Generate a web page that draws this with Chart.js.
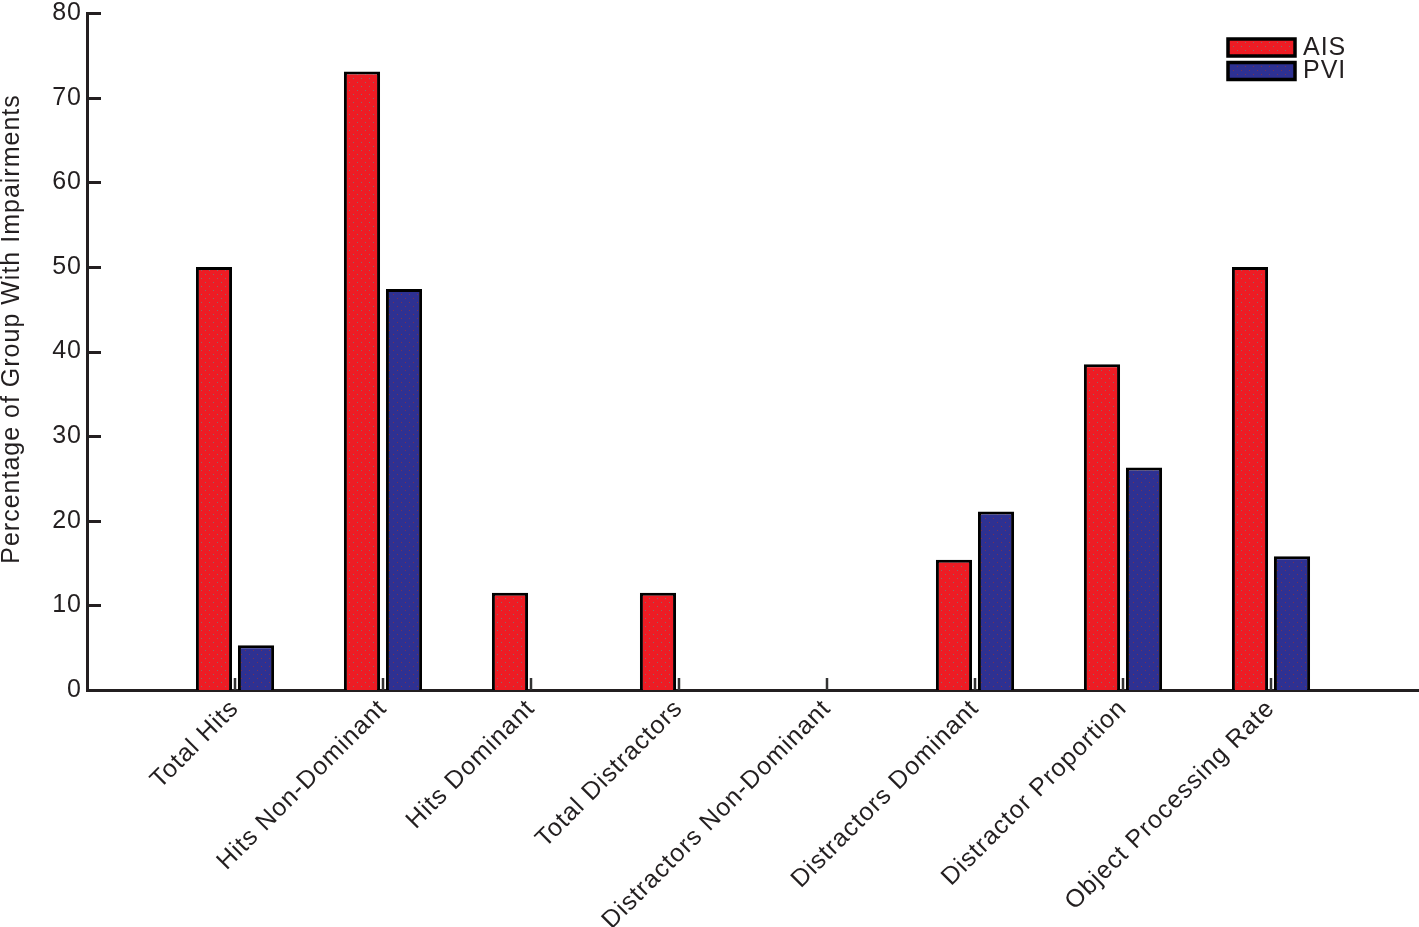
<!DOCTYPE html>
<html>
<head>
<meta charset="utf-8">
<script src="https://cdn.jsdelivr.net/npm/chart.js@4.4.1/dist/chart.umd.min.js"></script>
<style>
  html, body { margin: 0; padding: 0; background: #fff; }
  canvas { display: block; }
</style>
</head>
<body>
<canvas id="impairChart" width="1419" height="927"></canvas>
<script>
const categories = ["Total Hits", "Hits Non-Dominant", "Hits Dominant", "Total Distractors",
                    "Distractors Non-Dominant", "Distractors Dominant", "Distractor Proportion",
                    "Object Processing Rate"];
const seriesNames = ["AIS", "PVI"];
const aisValues = [50, 73.1, 11.5, 11.5, 0, 15.4, 38.5, 50];
const pviValues = [5.3, 47.4, 0, 0, 0, 21.1, 26.3, 15.8];
const yTicks = [0, 10, 20, 30, 40, 50, 60, 70, 80];
const yTitle = "Percentage of Group With Impairments";

const fontFamily = '"Liberation Sans", Arial, Helvetica, sans-serif';
const fontSize = 25;
const spacing = "1px";
const inkColor = "#231f20";
const redFill = "#ed1c24";
const blueFill = "#2e3192";

// speckled fill like the original print
function makePattern(base, dot) {
    const c = document.createElement("canvas");
    c.width = 8;
    c.height = 8;
    const g = c.getContext("2d");
    g.fillStyle = base;
    g.fillRect(0, 0, 8, 8);
    g.fillStyle = dot;
    g.fillRect(1, 6, 1, 1);
    g.fillRect(5, 2, 1, 1);
    return g.createPattern(c, "repeat");
}

const ctx = document.getElementById("impairChart").getContext("2d");
const redPattern = makePattern(redFill, "#8a6a6a");
const bluePattern = makePattern(blueFill, "#7a3050");

// pad both ends so the axis runs one slot past the first and last group
const labels = ["", ...categories, ""];
const padded = arr => [null, ...arr, null];

const spacingPlugin = {
    id: "letterSpacing",
    beforeUpdate(chart) { chart.ctx.letterSpacing = spacing; },
    beforeDraw(chart) { chart.ctx.letterSpacing = spacing; }
};

const decorPlugin = {
    id: "decor",
    afterDraw(chart) {
        const { ctx, scales: { x, y }, chartArea } = chart;
        ctx.save();

        // inward ticks on the y axis
        ctx.strokeStyle = inkColor;
        ctx.lineWidth = 3;
        yTicks.forEach(v => {
            const py = Math.round(y.getPixelForValue(v)) + 0.5;
            ctx.beginPath();
            ctx.moveTo(chartArea.left, py);
            ctx.lineTo(chartArea.left + 14, py);
            ctx.stroke();
        });

        // inward ticks on the x axis, one per group
        ctx.lineWidth = 2.5;
        ctx.strokeStyle = "#333";
        categories.forEach((c, i) => {
            const px = Math.round(x.getPixelForValue(i + 1));
            ctx.beginPath();
            ctx.moveTo(px, chartArea.bottom);
            ctx.lineTo(px, chartArea.bottom - 12);
            ctx.stroke();
        });

        // y axis title
        ctx.fillStyle = inkColor;
        ctx.font = fontSize + "px " + fontFamily;
        ctx.letterSpacing = spacing;
        ctx.textAlign = "center";
        ctx.textBaseline = "middle";
        ctx.translate(12, 329);
        ctx.rotate(-Math.PI / 2);
        ctx.fillText(yTitle, 0, 0);
        ctx.restore();

        // legend, top right
        ctx.save();
        const boxLeft = chartArea.right - 191;
        const fills = [redPattern, bluePattern];
        chart.data.datasets.forEach((ds, i) => {
            const top = 39 + i * 23.5;
            ctx.fillStyle = fills[i];
            ctx.fillRect(boxLeft, top, 67, 17);
            ctx.strokeStyle = "#000";
            ctx.lineWidth = 3.5;
            ctx.strokeRect(boxLeft, top, 67, 17);
            ctx.fillStyle = inkColor;
            ctx.font = fontSize + "px " + fontFamily;
            ctx.letterSpacing = spacing;
            ctx.textAlign = "left";
            ctx.textBaseline = "middle";
            ctx.fillText(ds.label, boxLeft + 75, top + 9);
        });
        ctx.restore();
    }
};

new Chart(ctx, {
    type: "bar",
    data: {
        labels: labels,
        datasets: [
            {
                label: seriesNames[0],
                data: padded(aisValues),
                backgroundColor: redPattern,
                borderColor: "#000",
                borderWidth: 3
            },
            {
                label: seriesNames[1],
                data: padded(pviValues),
                backgroundColor: bluePattern,
                borderColor: "#000",
                borderWidth: 3
            }
        ]
    },
    options: {
        responsive: false,
        animation: false,
        devicePixelRatio: 1,
        categoryPercentage: 0.568,
        barPercentage: 0.86,
        layout: { padding: { top: 13, right: 0, left: 0, bottom: 0 } },
        plugins: {
            legend: { display: false },
            tooltip: { enabled: false }
        },
        scales: {
            x: {
                offset: false,
                grid: { display: false, drawTicks: false },
                border: { display: true, color: inkColor, width: 3 },
                ticks: {
                    autoSkip: false,
                    maxRotation: 45,
                    minRotation: 45,
                    padding: 4,
                    color: inkColor,
                    font: { family: fontFamily, size: fontSize }
                },
                afterFit(scale) {
                    scale.height = 237;
                    scale.paddingLeft = 0;
                    scale.paddingRight = 0;
                }
            },
            y: {
                min: 0,
                max: 80,
                grid: { display: false, drawTicks: false },
                border: { display: true, color: inkColor, width: 3 },
                ticks: {
                    stepSize: 10,
                    padding: 5,
                    color: inkColor,
                    font: { family: fontFamily, size: fontSize }
                },
                afterFit(scale) {
                    scale.width = 87;
                    scale.paddingTop = 0;
                    scale.paddingBottom = 0;
                }
            }
        }
    },
    plugins: [spacingPlugin, decorPlugin]
});
</script>
</body>
</html>
